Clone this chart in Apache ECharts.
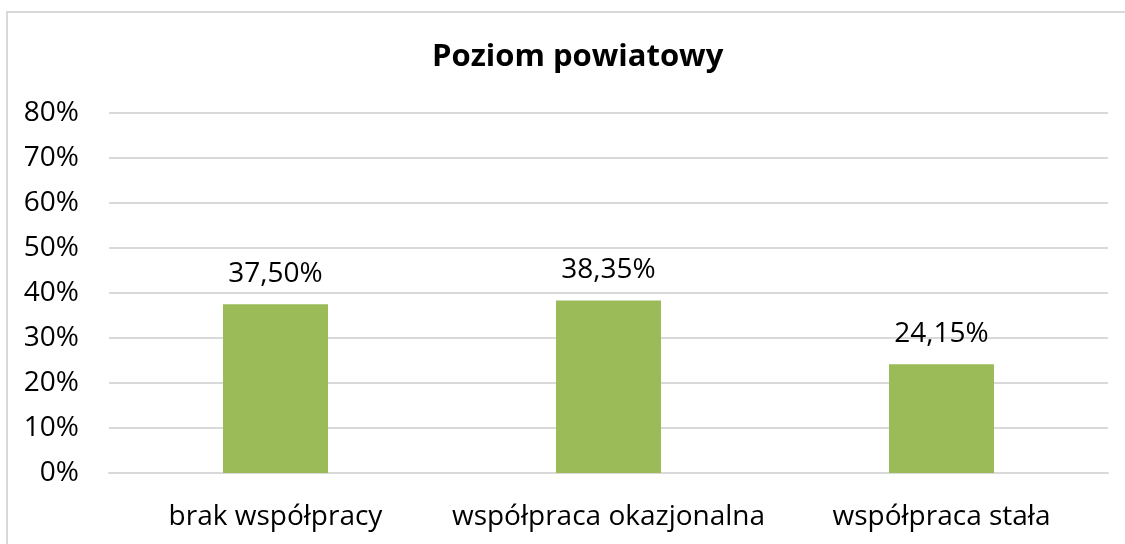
<!DOCTYPE html>
<html>
<head>
<meta charset="utf-8">
<title>Poziom powiatowy</title>
<script src="https://cdn.jsdelivr.net/npm/echarts@6/dist/echarts.min.js"></script>
<style>
  html, body { margin: 0; padding: 0; background: #fff; }
  #frame { position: absolute; left: 6px; top: 11px; width: 1130px; height: 540px; border: 2px solid #d9d9d9; box-sizing: border-box; }
  #main { position: absolute; left: 0; top: 0; width: 1125px; height: 544px; }
</style>
</head>
<body>
<div id="frame"></div>
<div id="main"></div>
<script type="text/javascript">
  var categories = ['brak współpracy', 'współpraca okazjonalna', 'współpraca stała'];
  var values = [37.50, 38.35, 24.15];
  var yTicks = [0, 10, 20, 30, 40, 50, 60, 70, 80];

  var myChart = echarts.init(document.getElementById('main'));
  var font = '"Open Sans", "Noto Sans", sans-serif';
  var option = {
    animation: false,
    title: {
      text: 'Poziom powiatowy',
      left: 427,
      top: 37,
      textStyle: { fontFamily: font, fontSize: 31, fontWeight: 'bold', color: '#000' }
    },
    grid: { left: 109, right: 17, top: 113, bottom: 71, containLabel: false },
    xAxis: {
      type: 'category',
      data: categories,
      axisLine: { lineStyle: { color: '#d9d9d9', width: 2 } },
      axisTick: { show: false },
      axisLabel: { interval: 0, fontFamily: font, fontSize: 28, color: '#000', margin: 30 }
    },
    yAxis: {
      type: 'value',
      min: yTicks[0],
      max: yTicks[yTicks.length - 1],
      interval: 10,
      axisLine: { show: false },
      axisTick: { show: false },
      splitLine: { lineStyle: { color: '#d9d9d9', width: 2 } },
      axisLabel: {
        fontFamily: font, fontSize: 28, color: '#000', margin: 30,
        formatter: function (v) { return v + '%'; }
      }
    },
    series: [{
      type: 'bar',
      data: values,
      barWidth: 105,
      itemStyle: { color: '#9bbb59' },
      label: {
        show: true,
        position: 'top',
        distance: 16,
        fontFamily: font, fontSize: 28, color: '#000',
        formatter: function (p) { return p.value.toFixed(2).replace('.', ',') + '%'; }
      }
    }]
  };
  myChart.setOption(option);
</script>
</body>
</html>
